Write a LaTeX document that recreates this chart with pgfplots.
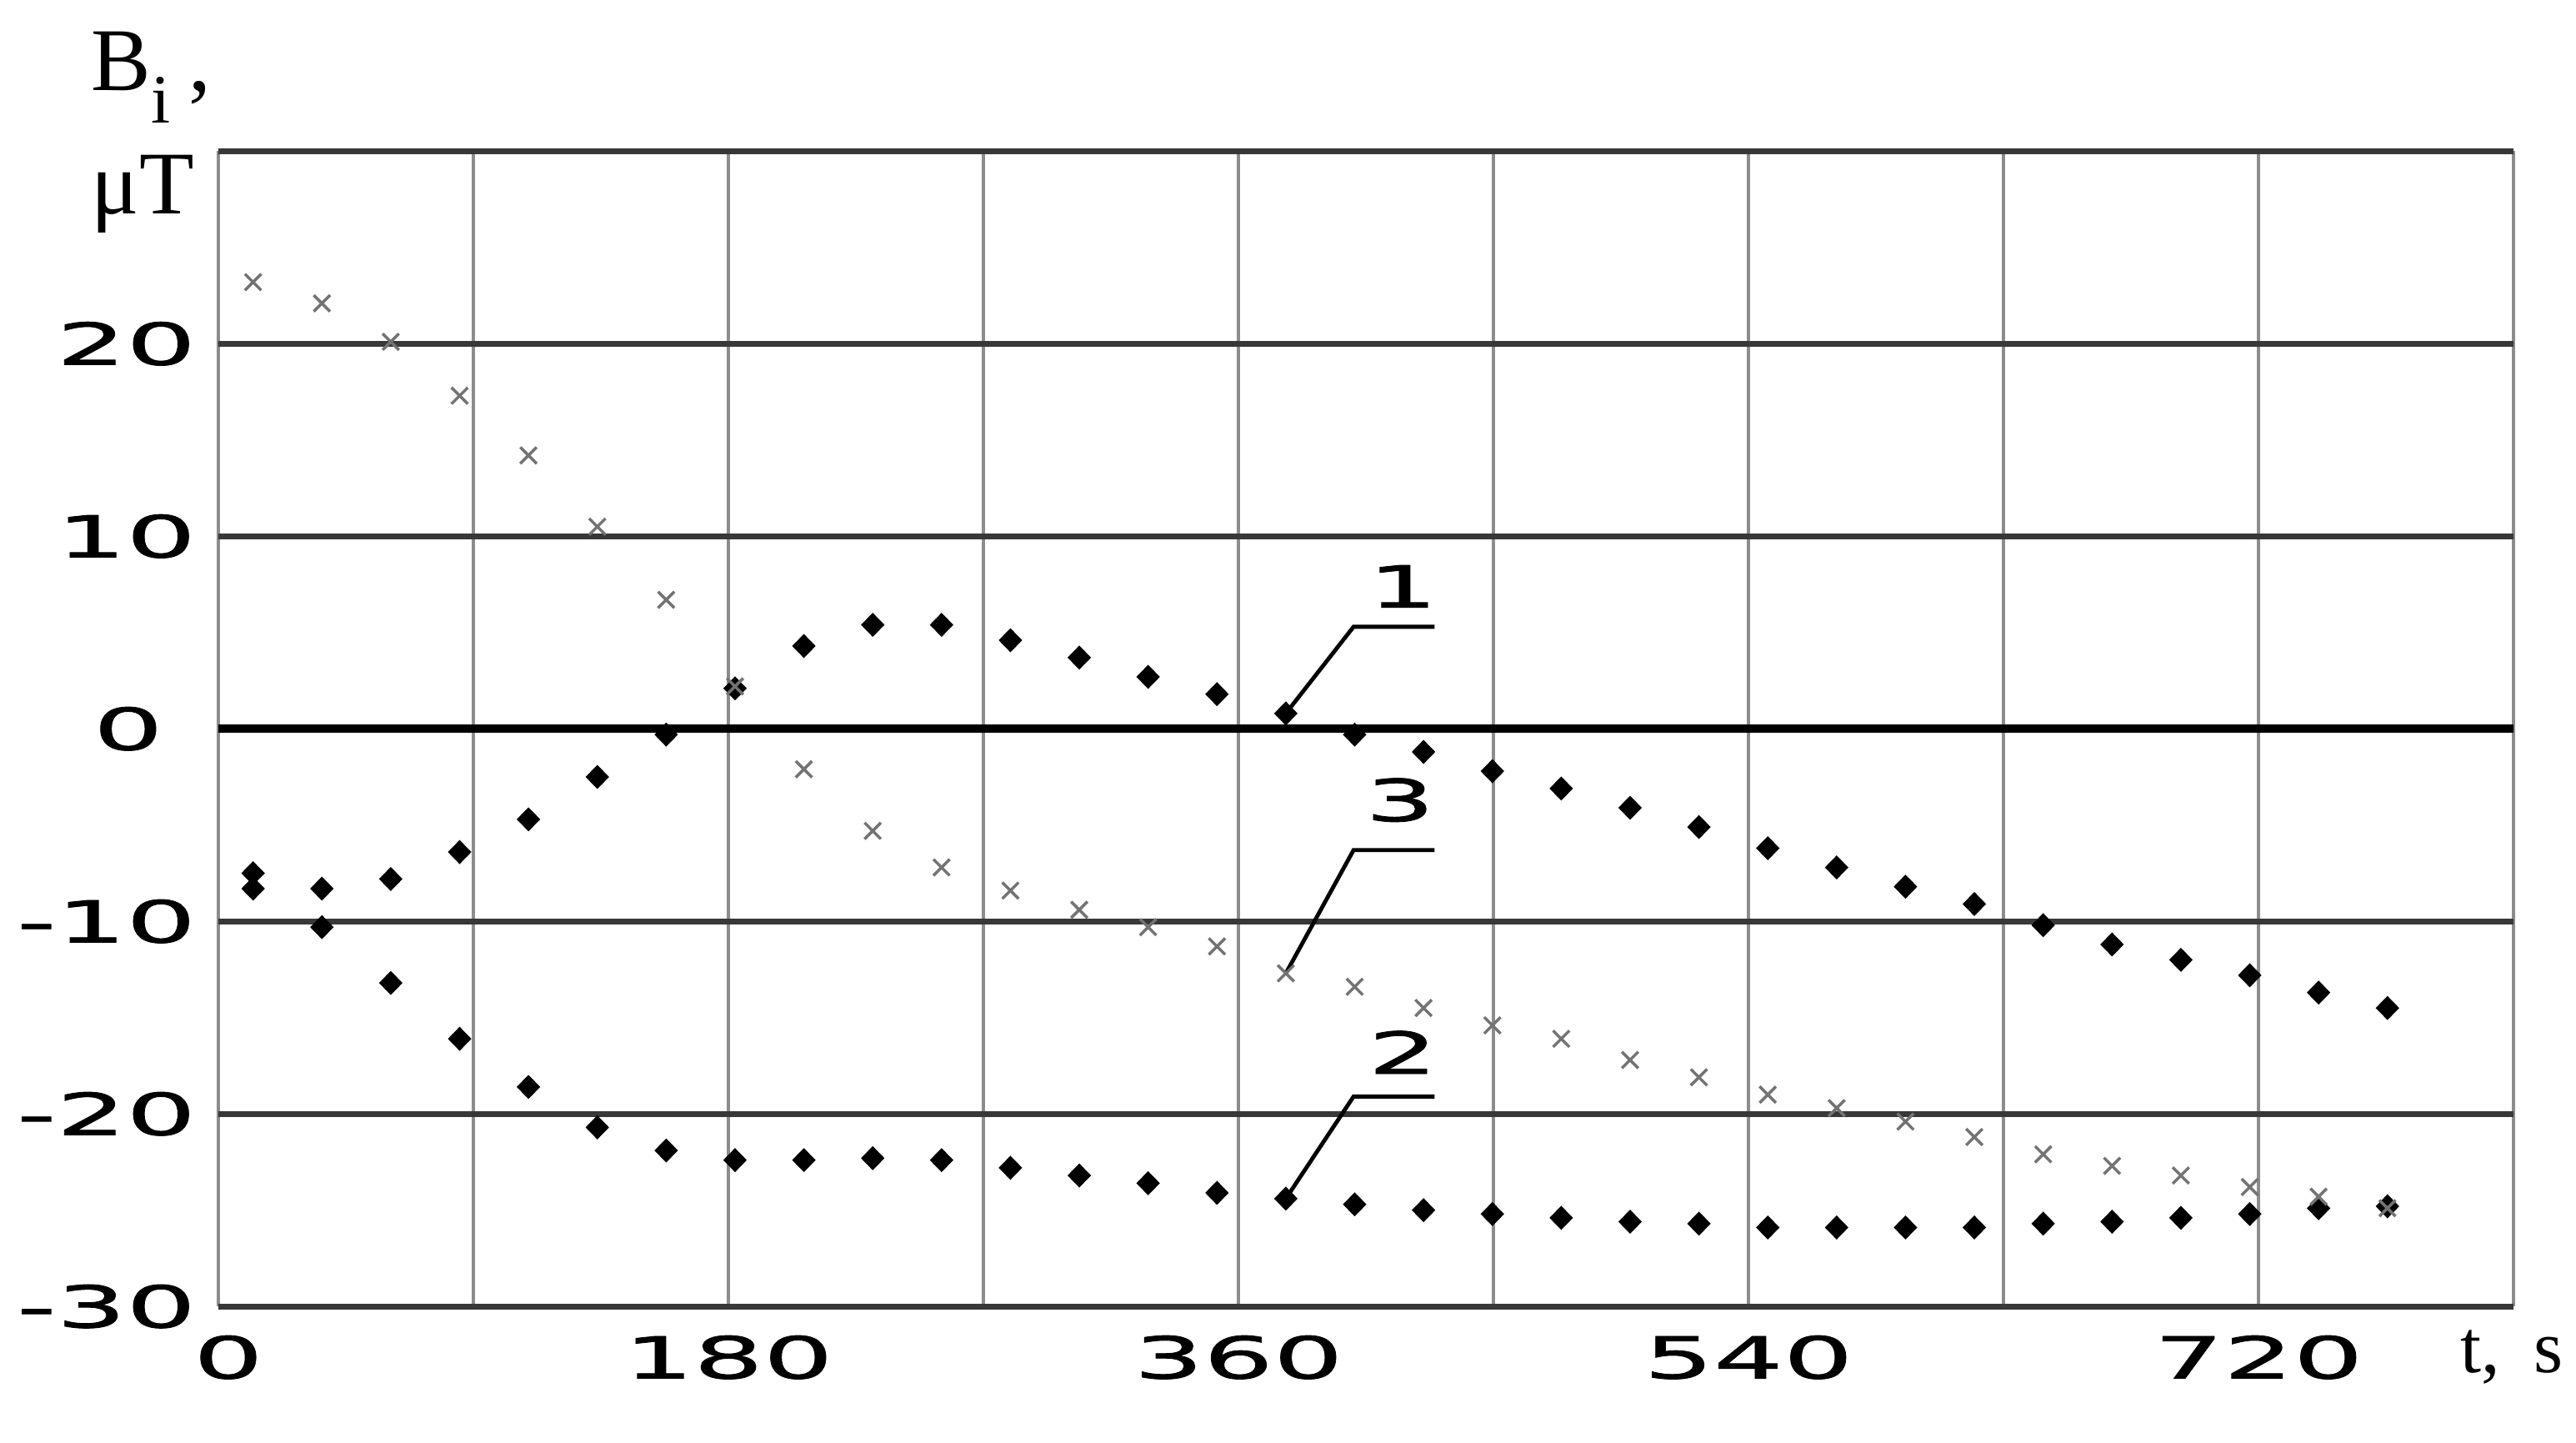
\documentclass[border=0pt]{standalone}
\usepackage{fontspec}
\usepackage{pgfplots}
\pgfplotsset{compat=1.18}
\setmainfont{Liberation Serif}
\newfontfamily\tickfont[FakeStretch=1.9,FakeBold=1.2]{DejaVu Sans}
\newcommand\tickfs{\tickfont\fontsize{10}{12}\selectfont}

\begin{document}
\begin{tikzpicture}
\begin{axis}[
  scale only axis,
  width=13.97cm, height=7.03cm,
  xmin=0, xmax=810, ymin=-30, ymax=30,
  axis line style={draw=none},
  major tick length=0pt, minor tick length=0pt,
  xtick={0,180,360,540,720},
  xticklabels={\hspace{1.2mm}0,180,360,540,720},
  minor xtick={90,270,450,630,810},
  ytick={-30,-20,-10,0,10,20},
  yticklabels={-30,-20,-10,0\rule{2mm}{0pt},10,20},
  minor ytick={30},
  grid=both,
  x grid style={color=black!45, line width=0.6pt},
  y grid style={color=black!78, line width=1pt},
  tick label style={font=\tickfs, inner sep=0pt},
  xticklabel style={anchor=north, yshift=-1.7mm},
  yticklabel style={anchor=east, xshift=-1.3mm},
  clip=false,
]
% zero line
\addplot [black, line width=1.4pt, mark=none] coordinates {(0,0) (810,0)};

% curve 1
\addplot [only marks, mark=diamond*, mark size=1.8pt, mark options={xscale=1.3}, black] coordinates {
(12.2,-7.5) (36.5,-8.3) (60.8,-7.8) (85.1,-6.4) (109.4,-4.7) (133.7,-2.5)
(158.0,-0.3) (182.3,2.1) (206.6,4.3) (230.9,5.4) (255.2,5.4) (279.5,4.6)
(303.8,3.7) (328.1,2.7) (352.4,1.8) (376.7,0.8) (401.0,-0.3) (425.3,-1.2)
(449.6,-2.2) (473.9,-3.1) (498.2,-4.1) (522.5,-5.1) (546.8,-6.2) (571.1,-7.2)
(595.4,-8.2) (619.7,-9.1) (644.0,-10.2) (668.3,-11.2) (692.6,-12.0) (716.9,-12.8)
(741.2,-13.7) (765.5,-14.5)};

% curve 2
\addplot [only marks, mark=diamond*, mark size=1.8pt, mark options={xscale=1.3}, black] coordinates {
(12.2,-8.3) (36.5,-10.3) (60.8,-13.2) (85.1,-16.1) (109.4,-18.6) (133.7,-20.7)
(158.0,-21.9) (182.3,-22.4) (206.6,-22.4) (230.9,-22.3) (255.2,-22.4) (279.5,-22.8)
(303.8,-23.2) (328.1,-23.6) (352.4,-24.1) (376.7,-24.4) (401.0,-24.7) (425.3,-25.0)
(449.6,-25.2) (473.9,-25.4) (498.2,-25.6) (522.5,-25.7) (546.8,-25.9) (571.1,-25.9)
(595.4,-25.9) (619.7,-25.9) (644.0,-25.7) (668.3,-25.6) (692.6,-25.4) (716.9,-25.2)
(741.2,-24.9) (765.5,-24.8)};

% curve 3
\addplot [only marks, mark=x, mark size=2pt, black!55, mark options={line width=0.5pt}] coordinates {
(12.2,23.2) (36.5,22.1) (60.8,20.1) (85.1,17.3) (109.4,14.2) (133.7,10.5)
(158.0,6.7) (182.3,2.2) (206.6,-2.1) (230.9,-5.3) (255.2,-7.2) (279.5,-8.4)
(303.8,-9.4) (328.1,-10.3) (352.4,-11.3) (376.7,-12.7) (401.0,-13.4) (425.3,-14.5)
(449.6,-15.4) (473.9,-16.1) (498.2,-17.2) (522.5,-18.1) (546.8,-19.0) (571.1,-19.7)
(595.4,-20.4) (619.7,-21.2) (644.0,-22.1) (668.3,-22.7) (692.6,-23.2) (716.9,-23.8)
(741.2,-24.3) (765.5,-24.9)};

% leader lines and curve numbers
\draw [black, line width=0.7pt] (axis cs:376.7,0.8) -- (axis cs:400.6,5.3) -- (axis cs:429.2,5.3);
\node [font=\tickfs, inner sep=0pt] at (axis cs:418,7.4) {1};
\draw [black, line width=0.7pt] (axis cs:376.7,-12.7) -- (axis cs:400.6,-6.3) -- (axis cs:429.2,-6.3);
\node [font=\tickfs, inner sep=0pt] at (axis cs:417,-3.7) {3};
\draw [black, line width=0.7pt] (axis cs:376.7,-24.4) -- (axis cs:400.6,-19.1) -- (axis cs:429.2,-19.1);
\node [font=\tickfs, inner sep=0pt] at (axis cs:418,-16.8) {2};
\end{axis}

\node [anchor=base west, inner sep=0pt, font=\fontsize{15.5}{18}\selectfont]
  at ([shift={(-7.8mm,3.7mm)}]current axis.north west)
  {B\raisebox{-2mm}{\fontsize{12}{14}\selectfont i}\hspace{0.2em},};
\node [anchor=base west, inner sep=0pt, font=\fontsize{15.5}{18}\selectfont]
  at ([shift={(-7.8mm,-3.8mm)}]current axis.north west) {μT};
\node [anchor=base west, inner sep=0pt, font=\fontsize{13}{15}\selectfont]
  at ([shift={(-3.3mm,-4.0mm)}]current axis.south east) {t,\hspace{0.45em}s};

\pgfresetboundingbox
\path ([shift={(-13.3mm,-8.3mm)}]current axis.south west) rectangle ++(156.8mm,87.8mm);
\end{tikzpicture}
\end{document}
